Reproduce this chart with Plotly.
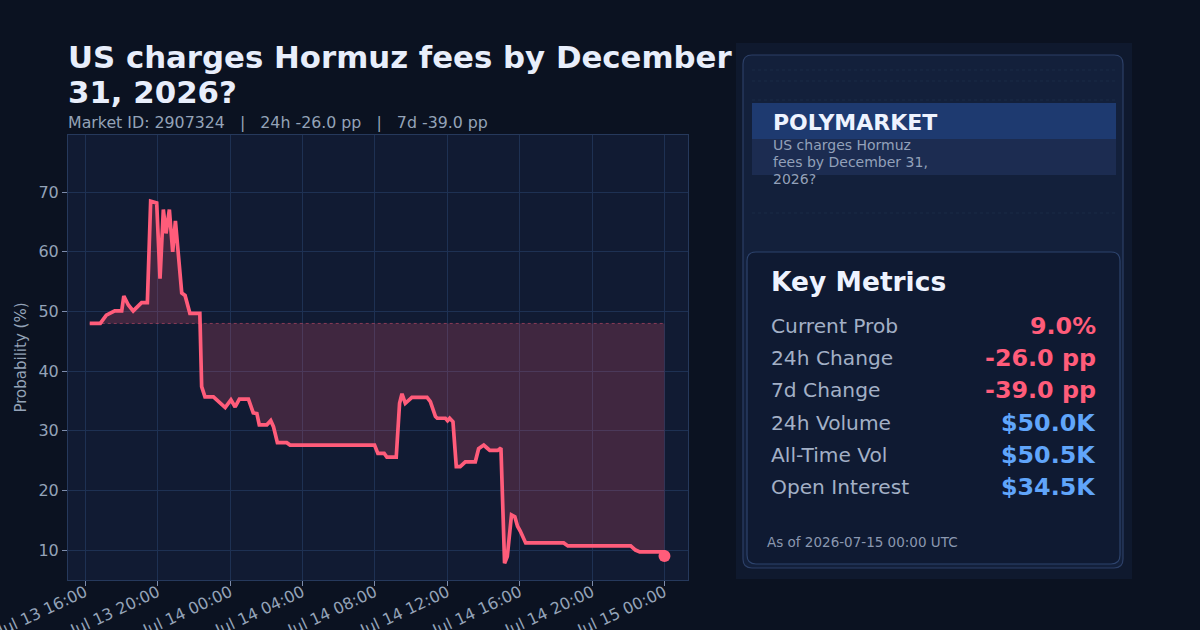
import plotly.graph_objects as go

# ---------------- data ----------------
times = [
    "2026-07-13 16:15", "2026-07-13 16:50", "2026-07-13 17:10", "2026-07-13 17:38",
    "2026-07-13 18:01", "2026-07-13 18:08", "2026-07-13 18:23", "2026-07-13 18:39",
    "2026-07-13 19:07", "2026-07-13 19:26", "2026-07-13 19:37", "2026-07-13 19:57",
    "2026-07-13 20:08", "2026-07-13 20:19", "2026-07-13 20:28", "2026-07-13 20:39",
    "2026-07-13 20:50", "2026-07-13 20:59", "2026-07-13 21:20", "2026-07-13 21:31",
    "2026-07-13 21:47", "2026-07-13 22:20", "2026-07-13 22:26", "2026-07-13 22:37",
    "2026-07-13 23:05", "2026-07-13 23:44", "2026-07-14 00:03", "2026-07-14 00:17",
    "2026-07-14 00:31", "2026-07-14 01:01", "2026-07-14 01:17", "2026-07-14 01:29",
    "2026-07-14 01:37", "2026-07-14 02:02", "2026-07-14 02:15", "2026-07-14 02:24",
    "2026-07-14 02:37", "2026-07-14 03:08", "2026-07-14 03:19", "2026-07-14 07:59",
    "2026-07-14 08:10", "2026-07-14 08:31", "2026-07-14 08:40", "2026-07-14 09:11",
    "2026-07-14 09:22", "2026-07-14 09:30", "2026-07-14 09:41", "2026-07-14 10:03",
    "2026-07-14 10:53", "2026-07-14 11:04", "2026-07-14 11:21", "2026-07-14 11:27",
    "2026-07-14 11:54", "2026-07-14 12:01", "2026-07-14 12:08", "2026-07-14 12:19",
    "2026-07-14 12:30", "2026-07-14 12:43", "2026-07-14 13:00", "2026-07-14 13:33",
    "2026-07-14 13:44", "2026-07-14 14:01", "2026-07-14 14:10", "2026-07-14 14:21",
    "2026-07-14 14:47", "2026-07-14 14:58", "2026-07-14 15:10", "2026-07-14 15:19",
    "2026-07-14 15:33", "2026-07-14 15:44", "2026-07-14 15:53", "2026-07-14 16:02",
    "2026-07-14 16:20", "2026-07-14 18:26", "2026-07-14 18:40", "2026-07-14 22:08",
    "2026-07-14 22:24", "2026-07-14 22:38", "2026-07-14 23:58", "2026-07-15 00:00",
]
prob = [
    48.0, 48.0, 49.4, 50.1,
    50.1, 52.6, 51.1, 50.1,
    51.5, 51.5, 68.5, 68.2,
    55.5, 67.1, 63.1, 67.1,
    60.0, 65.2, 53.1, 52.7,
    49.7, 49.7, 37.4, 35.7,
    35.7, 33.9, 35.2, 34.0,
    35.3, 35.3, 33.0, 32.9,
    31.0, 31.0, 31.7, 30.7,
    28.0, 28.0, 27.6, 27.6,
    26.2, 26.2, 25.6, 25.6,
    34.6, 36.2, 34.6, 35.6,
    35.6, 34.9, 32.4, 32.1,
    32.1, 31.7, 32.1, 31.5,
    24.0, 24.0, 24.8, 24.8,
    27.0, 27.6, 27.2, 26.7,
    26.7, 27.1, 7.8, 8.9,
    15.9, 15.6, 14.0, 13.2,
    11.2, 11.2, 10.7, 10.7,
    10.0, 9.7, 9.7, 9.0,
]

x_tick_vals = ["2026-07-13 16:00", "2026-07-13 20:00", "2026-07-14 00:00", "2026-07-14 04:00",
               "2026-07-14 08:00", "2026-07-14 12:00", "2026-07-14 16:00", "2026-07-14 20:00",
               "2026-07-15 00:00"]
x_tick_text = ["Jul 13 16:00", "Jul 13 20:00", "Jul 14 00:00", "Jul 14 04:00",
               "Jul 14 08:00", "Jul 14 12:00", "Jul 14 16:00", "Jul 14 20:00",
               "Jul 15 00:00"]
y_tick_vals = [10, 20, 30, 40, 50, 60, 70]

title_lines = ["US charges Hormuz fees by December", "31, 2026?"]
subtitle = "Market ID: 2907324   |   24h -26.0 pp   |   7d -39.0 pp"
brand = "POLYMARKET"
brand_sub = ["US charges Hormuz", "fees by December 31,", "2026?"]
metric_labels = ["Current Prob", "24h Change", "7d Change", "24h Volume", "All-Time Vol", "Open Interest"]
metric_values = ["9.0%", "-26.0 pp", "-39.0 pp", "$50.0K", "$50.5K", "$34.5K"]
metric_kinds = ["neg", "neg", "neg", "vol", "vol", "vol"]
as_of = "As of 2026-07-15 00:00 UTC"

# ---------------- style ----------------
FONT = "DejaVu Sans"
PAGE_BG = "#0b1221"
PLOT_BG = "#111b33"
GRID = "#1e3153"
LINE = "#ff5c7a"
BLUE = "#60a5fa"
MUTED = "#94a3b8"

L, R, T, B = 68, 688, 135, 580
W, H = R - L, B - T


def px(x):
    return (x - L) / W


def py(y):
    return (B - y) / H


def rrect(x0, y0, x1, y1, r):
    rx, ry = r / W, r / H
    X0, X1, Y0, Y1 = px(x0), px(x1), py(y0), py(y1)  # Y0 top (larger), Y1 bottom
    return (f"M {X0+rx},{Y0} L {X1-rx},{Y0} Q {X1},{Y0} {X1},{Y0-ry} "
            f"L {X1},{Y1+ry} Q {X1},{Y1} {X1-rx},{Y1} L {X0+rx},{Y1} "
            f"Q {X0},{Y1} {X0},{Y1+ry} L {X0},{Y0-ry} Q {X0},{Y0} {X0+rx},{Y0} Z")


fig = go.Figure()

base = prob[0]
fig.add_trace(go.Scatter(
    x=[times[0], times[-1]], y=[base, base], mode="lines",
    line=dict(color="rgba(255,92,122,0.45)", width=1, dash="dot"),
    hoverinfo="skip", showlegend=False))
fig.add_trace(go.Scatter(
    x=times, y=prob, mode="lines",
    line=dict(color=LINE, width=3.7),
    fill="tonexty", fillcolor="rgba(255,92,122,0.20)",
    showlegend=False))
fig.add_trace(go.Scatter(
    x=[times[-1]], y=[prob[-1]], mode="markers",
    marker=dict(color=LINE, size=12), showlegend=False))

shapes = []
# right side panel
shapes.append(dict(type="rect", xref="paper", yref="paper",
                   x0=px(736), x1=px(1132), y0=py(579), y1=py(43),
                   fillcolor="#0f192e", line=dict(width=0), layer="above"))
shapes.append(dict(type="path", xref="paper", yref="paper", path=rrect(743, 55, 1123, 568, 9),
                   fillcolor="#13203b", line=dict(color="#2c3f66", width=1.2), layer="above"))
for yy in (70, 81, 100, 213):
    shapes.append(dict(type="line", xref="paper", yref="paper",
                       x0=px(752), x1=px(1116), y0=py(yy), y1=py(yy),
                       line=dict(color="#1a2a47", width=1, dash="dot"), layer="above"))
shapes.append(dict(type="rect", xref="paper", yref="paper",
                   x0=px(752), x1=px(1116), y0=py(139), y1=py(103),
                   fillcolor="#1e3a70", line=dict(width=0), layer="above"))
shapes.append(dict(type="rect", xref="paper", yref="paper",
                   x0=px(752), x1=px(1116), y0=py(175), y1=py(139),
                   fillcolor="#1c2c51", line=dict(width=0), layer="above"))
shapes.append(dict(type="path", xref="paper", yref="paper", path=rrect(747, 252, 1120, 564, 9),
                   fillcolor="#0f1a32", line=dict(color="#2d436c", width=1.2), layer="above"))

ann = []


def text(x, y, s, size, color, bold=False, xanchor="left"):
    ann.append(dict(xref="paper", yref="paper", x=px(x), y=py(y), text=(f"<b>{s}</b>" if bold else s),
                    showarrow=False, xanchor=xanchor, yanchor="middle",
                    font=dict(family=FONT, size=size, color=color)))


text(66, 57, title_lines[0], 30.8, "#e8eefb", bold=True)
text(66, 92, title_lines[1], 30.8, "#e8eefb", bold=True)
text(66, 123, subtitle.replace("   ", "&nbsp;&nbsp;&nbsp;"), 15.8, MUTED)

text(771, 122, brand, 22, "#eef3ff", bold=True)
for i, s in enumerate(brand_sub):
    text(771, 145 + 17 * i, s, 14, "#93a1ba")

text(769, 281, "Key Metrics", 26.5, "#eef3ff", bold=True)
for i, (lab, val, kind) in enumerate(zip(metric_labels, metric_values, metric_kinds)):
    yy = 326 + 32.2 * i
    text(769, yy, lab, 20.2, "#a3b0c6")
    text(1098, yy, val, 23.8, LINE if kind == "neg" else BLUE, bold=True, xanchor="right")
text(765, 542, as_of, 13.5, "#8b98b0")

fig.update_layout(
    width=1200, height=630,
    margin=dict(l=L, r=1200 - R, t=T, b=630 - B, autoexpand=False),
    paper_bgcolor=PAGE_BG, plot_bgcolor=PLOT_BG,
    font=dict(family=FONT, color=MUTED),
    shapes=shapes, annotations=ann, showlegend=False,
    xaxis=dict(type="date", range=["2026-07-13 15:03", "2026-07-15 01:18"],
               tickvals=x_tick_vals, ticktext=x_tick_text, tickangle=-25,
               ticklabelstandoff=-9, ticklabeloverflow="allow",
               tickfont=dict(size=16, color=MUTED), showgrid=True, gridcolor=GRID, gridwidth=1,
               showline=True, mirror=True, linecolor="#26395c", linewidth=1,
               ticks="outside", ticklen=5, tickcolor="#7d8cab", zeroline=False, automargin=False),
    yaxis=dict(range=[4.98, 79.6], tickvals=y_tick_vals,
               tickfont=dict(size=16, color=MUTED), showgrid=True, gridcolor=GRID, gridwidth=1,
               showline=True, mirror=True, linecolor="#26395c", linewidth=1,
               ticks="outside", ticklen=5, tickcolor="#7d8cab", zeroline=False, automargin=False,
               title=dict(text="Probability (%)", font=dict(size=15, color=MUTED), standoff=8)),
)

fig.write_html("out.html")
